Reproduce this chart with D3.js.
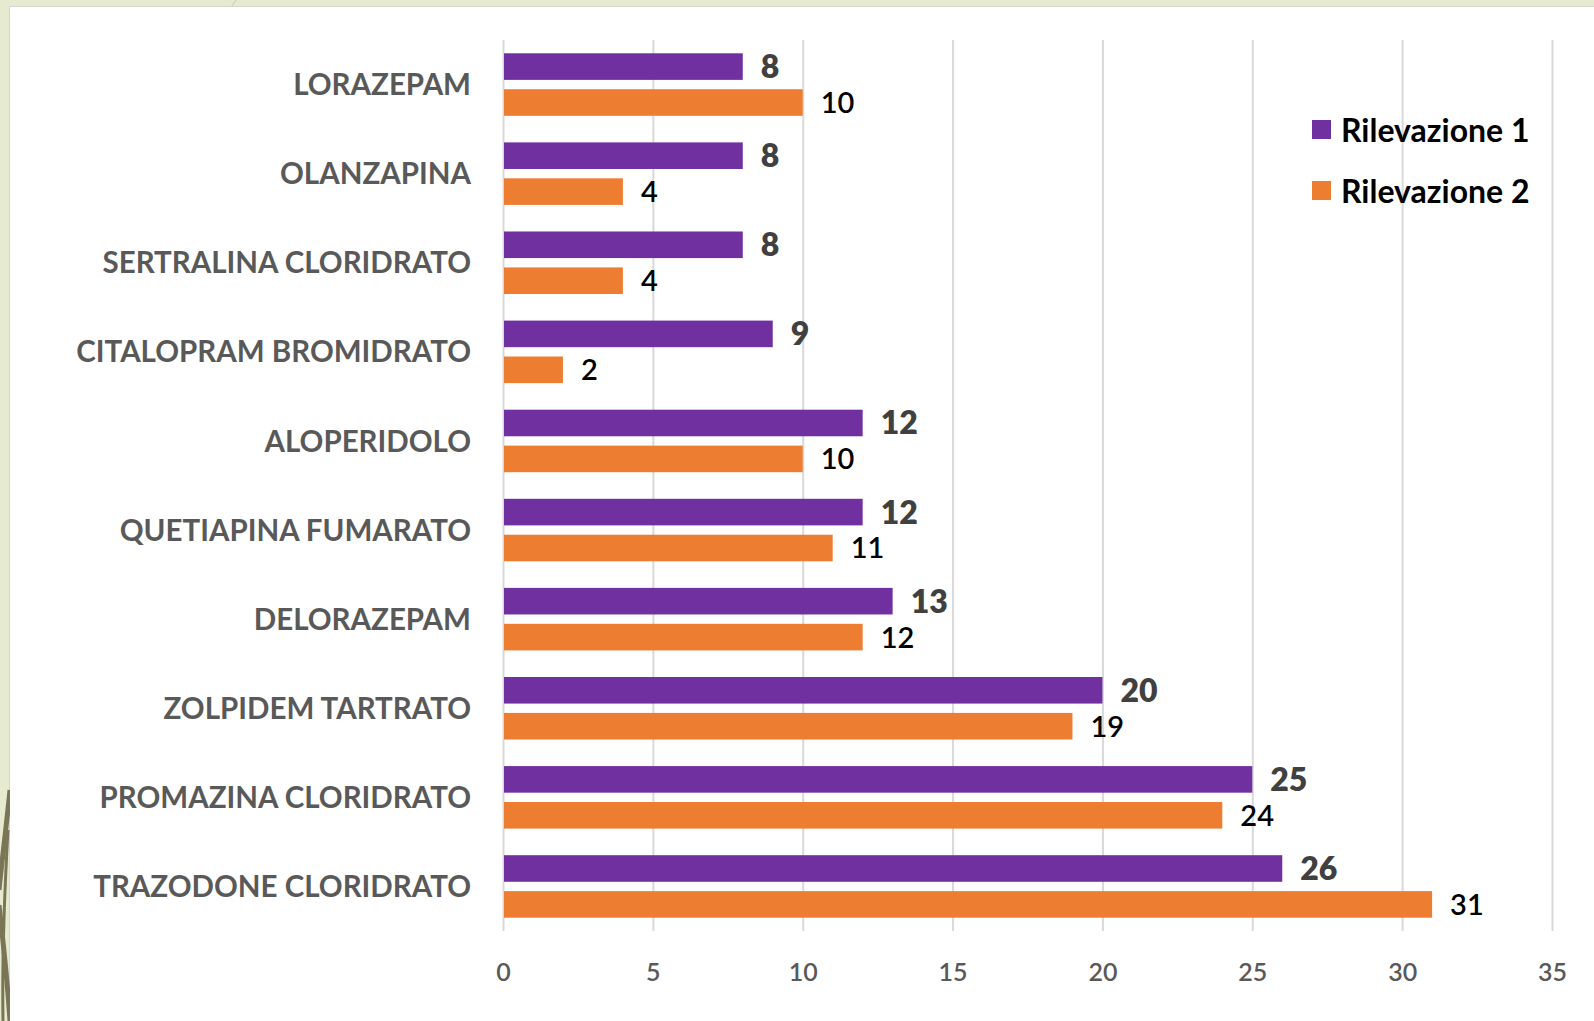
<!DOCTYPE html>
<html>
<head>
<meta charset="utf-8">
<script src="https://cdn.jsdelivr.net/npm/d3@7"></script>
<style>
  body { margin: 0; background: #fff; }
  svg { display: block; }
</style>
</head>
<body>
<div id="chart"></div>
<script>
// data
var categories = ["LORAZEPAM", "OLANZAPINA", "SERTRALINA CLORIDRATO", "CITALOPRAM BROMIDRATO",
    "ALOPERIDOLO", "QUETIAPINA FUMARATO", "DELORAZEPAM", "ZOLPIDEM TARTRATO",
    "PROMAZINA CLORIDRATO", "TRAZODONE CLORIDRATO"];
var rilevazione1 = [8, 8, 8, 9, 12, 12, 13, 20, 25, 26];
var rilevazione2 = [10, 4, 4, 2, 10, 11, 12, 19, 24, 31];
var seriesNames = ["Rilevazione 1", "Rilevazione 2"];
var xTicks = [0, 5, 10, 15, 20, 25, 30, 35];

var W = 1594, H = 1021;
var plot = {left: 503, right: 1552, top: 40, bottom: 931};
var font = "Lato, 'Open Sans', sans-serif";

var svg = d3.select("#chart").append("svg")
    .attr("width", W)
    .attr("height", H);

// slide background (theme frame)
svg.append("rect").attr("width", W).attr("height", H).attr("fill", "#e6ebcf");
svg.append("rect").attr("x", 9).attr("y", 6).attr("width", W - 9).attr("height", H - 6).attr("fill", "#d6d6d2");
svg.append("rect").attr("x", 10).attr("y", 7).attr("width", W - 10).attr("height", H - 7).attr("fill", "#ffffff");

// decorative stems on the left edge, clipped to the green strip
svg.append("clipPath").attr("id", "strip")
    .append("rect").attr("width", 10).attr("height", H);
var deco = svg.append("g").attr("clip-path", "url(#strip)")
    .attr("fill", "none").attr("stroke", "#7b7557");
deco.append("path").attr("d", "M10,790 C6,830 2,860 -1,890").attr("stroke-width", 5);
deco.append("path").attr("d", "M-1,905 C3,940 7,975 10,1021").attr("stroke-width", 5);
deco.append("path").attr("d", "M8,830 C4,900 2,960 3,1021").attr("stroke-width", 3);
svg.append("path").attr("d", "M236,0 L232,6").attr("stroke", "#c9cdb4").attr("stroke-width", 1);

// scales
var x = d3.scaleLinear().domain([0, 35]).range([plot.left, plot.right]);
var y0 = d3.scaleBand().domain(categories).range([plot.top, plot.bottom]);
var y1 = d3.scaleBand().domain(seriesNames).range([0, y0.bandwidth()])
    .paddingInner(0.26).paddingOuter(0.37);
var color = d3.scaleOrdinal().domain(seriesNames).range(["#7030a0", "#ed7d31"]);

// grid + x axis
var xAxis = svg.append("g")
    .attr("transform", "translate(0," + plot.bottom + ")")
    .call(d3.axisBottom(x).tickValues(xTicks).tickSize(-(plot.bottom - plot.top)).tickPadding(0));
xAxis.select(".domain").remove();
xAxis.selectAll(".tick line").attr("stroke", "#d9d9d9").attr("stroke-width", 2);
xAxis.selectAll(".tick text")
    .attr("y", 41)
    .attr("dy", "0.35em")
    .attr("fill", "#595959")
    .style("font-family", font)
    .style("font-size", "25px")
    .style("font-weight", "600");

// rows
var table = categories.map(function(c, i) {
    return {cat: c, vals: [
        {key: seriesNames[0], value: rilevazione1[i]},
        {key: seriesNames[1], value: rilevazione2[i]}
    ]};
});

var rows = svg.append("g").selectAll("g")
    .data(table)
    .enter().append("g")
    .attr("transform", function(d) { return "translate(0," + y0(d.cat) + ")"; });

rows.selectAll("rect")
    .data(function(d) { return d.vals; })
    .enter().append("rect")
    .attr("x", x(0) + 1)
    .attr("y", function(d) { return y1(d.key); })
    .attr("width", function(d) { return x(d.value) - x(0) - 1; })
    .attr("height", y1.bandwidth())
    .attr("fill", function(d) { return color(d.key); });

rows.selectAll("text.val")
    .data(function(d) { return d.vals; })
    .enter().append("text")
    .attr("class", "val")
    .attr("x", function(d) { return x(d.value) + 18; })
    .attr("y", function(d) { return y1(d.key) + y1.bandwidth() / 2; })
    .attr("dy", "0.36em")
    .attr("fill", function(d) { return d.key === seriesNames[0] ? "#404040" : "#000000"; })
    .style("font-family", font)
    .style("font-size", function(d) { return d.key === seriesNames[0] ? "32px" : "29px"; })
    .style("font-weight", function(d) { return d.key === seriesNames[0] ? "800" : "600"; })
    .text(function(d) { return d.value; });

// category labels
rows.append("text")
    .attr("x", 471)
    .attr("y", y0.bandwidth() / 2)
    .attr("dy", "0.36em")
    .attr("text-anchor", "end")
    .attr("fill", "#595959")
    .style("font-family", font)
    .style("font-size", "29.5px")
    .style("font-weight", "700")
    .text(function(d) { return d.cat; });

// legend
var legend = svg.append("g").selectAll("g")
    .data(seriesNames)
    .enter().append("g")
    .attr("transform", function(d, i) { return "translate(1312," + (120 + i * 61) + ")"; });

legend.append("rect")
    .attr("width", 19)
    .attr("height", 19)
    .attr("fill", color);

legend.append("text")
    .attr("x", 29)
    .attr("y", 10)
    .attr("dy", "0.36em")
    .attr("fill", "#000")
    .style("font-family", font)
    .style("font-size", "32px")
    .style("font-weight", "700")
    .text(function(d) { return d; });
</script>
</body>
</html>
